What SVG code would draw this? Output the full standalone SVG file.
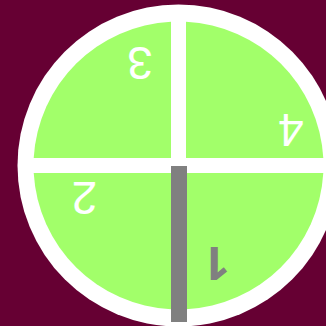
<svg xmlns="http://www.w3.org/2000/svg" width="326" height="326" viewBox="0 0 326 326">
<style>
.lbl{font-family:"Liberation Sans",Arial,sans-serif;font-size:46px;text-anchor:middle;fill:#ffffff}
.q{fill:#a2ff6a}
</style>
<rect width="326" height="326" fill="#660033"/>
<g id="dial">
<circle cx="178.5" cy="165.5" r="161" fill="#ffffff"/>
<g id="q3"><path class="q" d="M171 158 L171 21.7 A145 145 0 0 0 33.7 158 Z"/></g>
<g id="q4"><path class="q" d="M186 158 L186 21.7 A145 145 0 0 1 323.3 158 Z"/></g>
<g id="q2"><path class="q" d="M171 173 L171 309.3 A145 145 0 0 1 33.7 173 Z"/></g>
<g id="q1"><path class="q" d="M186 173 L186 309.3 A145 145 0 0 0 323.3 173 Z"/></g>
</g>
<g id="connectors">
<rect x="171" y="166" width="16" height="156" fill="#808080"/>
</g>
<g id="labels">
<text class="lbl" x="140" y="80" transform="rotate(180 140 63.5)">3</text>
<text class="lbl" x="291" y="147" transform="rotate(180 291 130.5)">4</text>
<text class="lbl" x="84.5" y="215" transform="rotate(180 84.5 198.5)">2</text>
<text class="lbl" x="216.5" y="279.4" transform="rotate(180 216.5 263)" style="fill:#808080;font-family:'Open Sans',sans-serif;font-weight:bold">1</text>
</g>
</svg>
